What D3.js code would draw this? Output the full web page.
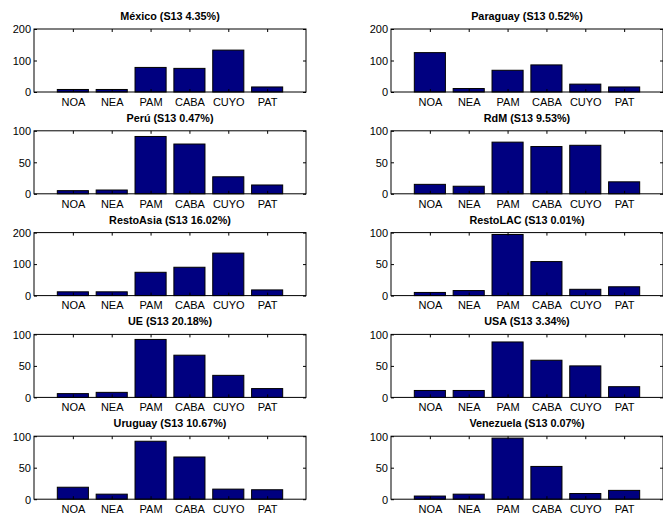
<!DOCTYPE html>
<html>
<head>
<meta charset="utf-8">
<script src="https://cdn.jsdelivr.net/npm/d3@7"></script>
<style>
  body { margin: 0; background: #fff; }
  svg { display: block; }
  text { font-family: "Liberation Sans", Arial, Helvetica, sans-serif; fill: #000; }
</style>
</head>
<body>
<svg id="chart" width="663" height="517"></svg>
<script>
// Argentine regions on the x axis
const regions = ["NOA", "NEA", "PAM", "CABA", "CUYO", "PAT"];

// Panel titles (destination and its S13 share)
const titles = [
  "México (S13 4.35%)", "Paraguay (S13 0.52%)",
  "Perú (S13 0.47%)", "RdM (S13 9.53%)",
  "RestoAsia (S13 16.02%)", "RestoLAC (S13 0.01%)",
  "UE (S13 20.18%)", "USA (S13 3.34%)",
  "Uruguay (S13 10.67%)", "Venezuela (S13 0.07%)"
];

// Upper y limit of each panel
const yLimits = [200, 200, 100, 100, 200, 100, 100, 100, 100, 100];

// Values per region, one array per destination
const mexico    = [8, 8, 78, 75, 133, 16];
const paraguay  = [125, 11, 69, 86, 25, 16];
const peru      = [5, 6, 91, 79, 27, 14];
const rdm       = [15, 12, 82, 75, 77, 19];
const restoAsia = [12, 12, 74, 90, 135, 18];
const restoLAC  = [5, 8, 97, 54, 10, 14];
const ue        = [6, 8, 92, 67, 35, 14];
const usa       = [11, 11, 88, 59, 50, 17];
const uruguay   = [19, 8, 92, 67, 16, 15];
const venezuela = [5, 8, 97, 52, 9, 14];

const series = [mexico, paraguay, peru, rdm, restoAsia, restoLAC, ue, usa, uruguay, venezuela];

const svg = d3.select("#chart");
const W = 272, H = 63;
const colX = [34, 391];
const rowY0 = 29, rowStep = 101.8;
const barFill = "#000080";
const fontSize = 11;

series.forEach((vals, i) => {
  const col = i % 2, row = Math.floor(i / 2);
  const left = colX[col];
  const top = rowY0 + row * rowStep;
  const g = svg.append("g").attr("transform", `translate(${left},${top})`);

  const x = d3.scaleLinear().domain([0, 7]).range([0, W]);
  const y = d3.scaleLinear().domain([0, yLimits[i]]).range([H, 0]);
  const yTickVals = [0, yLimits[i] / 2, yLimits[i]];
  const xTickVals = regions.map((d, k) => k + 1);

  // bars
  g.selectAll("rect.bar")
    .data(vals)
    .join("rect")
    .attr("class", "bar")
    .attr("x", (d, k) => x(k + 1 - 0.4))
    .attr("width", x(0.8) - x(0))
    .attr("y", d => y(d))
    .attr("height", d => y(0) - y(d))
    .attr("fill", barFill)
    .attr("stroke", "#000")
    .attr("stroke-width", 1);

  // left axis with labels, inward ticks
  const yAxis = d3.axisLeft(y).tickValues(yTickVals).tickSizeInner(-3).tickSizeOuter(0).tickPadding(3)
    .tickFormat(d3.format("d"));
  const ga = g.append("g").call(yAxis);
  ga.select(".domain").remove();
  ga.selectAll("text").attr("font-size", fontSize).attr("font-family", null).attr("dy", "0.35em");
  ga.selectAll("line").attr("stroke", "#000");

  // right mirror ticks
  const yAxisR = d3.axisRight(y).tickValues(yTickVals).tickSizeInner(-3).tickSizeOuter(0).tickFormat("");
  const gr = g.append("g").attr("transform", `translate(${W},0)`).call(yAxisR);
  gr.select(".domain").remove();
  gr.selectAll("line").attr("stroke", "#000");

  // bottom axis with region names
  const xAxis = d3.axisBottom(x).tickValues(xTickVals).tickSizeInner(-3).tickSizeOuter(0).tickPadding(6)
    .tickFormat(d => regions[d - 1]);
  const gb = g.append("g").attr("transform", `translate(0,${H})`).call(xAxis);
  gb.select(".domain").remove();
  gb.selectAll("text").attr("font-size", fontSize).attr("font-family", null);
  gb.selectAll("line").attr("stroke", "#000");

  // top mirror ticks
  const xAxisT = d3.axisTop(x).tickValues(xTickVals).tickSizeInner(-3).tickSizeOuter(0).tickFormat("");
  const gt = g.append("g").call(xAxisT);
  gt.select(".domain").remove();
  gt.selectAll("line").attr("stroke", "#000");

  // axes box
  g.append("rect")
    .attr("x", 0).attr("y", 0).attr("width", W).attr("height", H)
    .attr("fill", "none").attr("stroke", "#000").attr("stroke-width", 1);

  // title
  g.append("text")
    .attr("x", W / 2).attr("y", -9)
    .attr("text-anchor", "middle")
    .attr("font-size", 10.8)
    .attr("font-weight", "bold")
    .text(titles[i]);
});
</script>
</body>
</html>
